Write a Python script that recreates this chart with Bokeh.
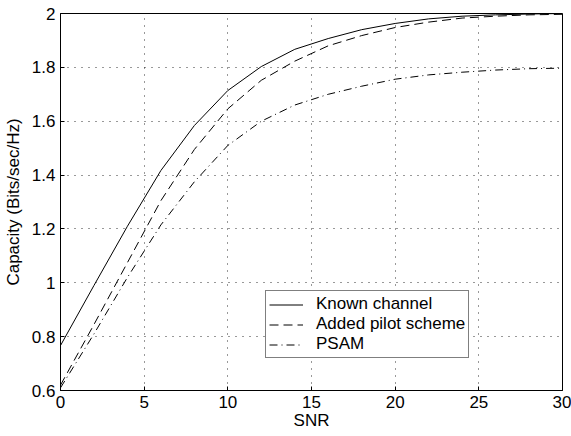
from bokeh.plotting import figure
from bokeh.models import FixedTicker, Legend, LegendItem
from bokeh.embed import file_html
from bokeh.resources import INLINE

snr = [0, 2, 4, 6, 8, 10, 12, 14, 16, 18, 20, 22, 24, 26, 28, 30]
known = [0.767, 0.99, 1.21, 1.417, 1.584, 1.714, 1.803, 1.867, 1.907, 1.94, 1.963, 1.98, 1.99, 1.995, 1.998, 2.0]
pilot = [0.62, 0.845, 1.075, 1.305, 1.495, 1.646, 1.752, 1.823, 1.88, 1.918, 1.948, 1.968, 1.983, 1.99, 1.995, 1.997]
psam = [0.61, 0.81, 1.02, 1.215, 1.375, 1.51, 1.60, 1.66, 1.70, 1.73, 1.756, 1.772, 1.782, 1.79, 1.795, 1.797]

x_ticks = [0, 5, 10, 15, 20, 25, 30]
y_ticks = [0.6, 0.8, 1.0, 1.2, 1.4, 1.6, 1.8, 2.0]
y_tick_labels = ["0.6", "0.8", "1", "1.2", "1.4", "1.6", "1.8", "2"]

FONT = "Liberation Sans"

p = figure(width=571, height=436, output_backend="svg", toolbar_location=None,
           x_range=(0, 30), y_range=(0.6, 2.0),
           min_border_left=59, min_border_right=9, min_border_top=13, min_border_bottom=46)
p.background_fill_color = "white"
p.border_fill_color = "white"
p.outline_line_color = "black"
p.outline_line_width = 1

p.xaxis.ticker = FixedTicker(ticks=x_ticks)
p.yaxis.ticker = FixedTicker(ticks=y_ticks)
p.yaxis.major_label_overrides = {t: l for t, l in zip(y_ticks, y_tick_labels)}
p.xaxis.axis_label = "SNR"
p.yaxis.axis_label = "Capacity (Bits/sec/Hz)"

for ax in (p.xaxis, p.yaxis):
    ax.major_label_text_font = FONT
    ax.major_label_text_font_size = "17px"
    ax.major_label_text_color = "black"
    ax.axis_label_text_font = FONT
    ax.axis_label_text_font_size = "17px"
    ax.axis_label_text_font_style = "normal"
    ax.axis_label_text_color = "black"
    ax.axis_line_color = "black"
    ax.major_tick_line_color = "black"
    ax.major_tick_in = 4
    ax.major_tick_out = 0
    ax.minor_tick_line_color = None

p.xaxis.major_label_standoff = 5
p.xaxis.axis_label_standoff = 0
p.yaxis.major_label_standoff = 5
p.yaxis.axis_label_standoff = 6

for g in (p.xgrid, p.ygrid):
    g.grid_line_color = "black"
    g.grid_line_alpha = 0.8
    g.grid_line_dash = "1 6"
    g.grid_line_width = 1

r1 = p.line(snr, known, line_color="black", line_width=1)
r2 = p.line(snr, pilot, line_color="black", line_width=1, line_dash="9 5")
r3 = p.line(snr, psam, line_color="black", line_width=1, line_dash="8 4 1 4")

legend = Legend(items=[LegendItem(label="Known channel", renderers=[r1]),
                       LegendItem(label="Added pilot scheme", renderers=[r2]),
                       LegendItem(label="PSAM", renderers=[r3])],
                location=(205, 32))
legend.label_text_font = FONT
legend.label_text_font_size = "17px"
legend.label_text_color = "black"
legend.border_line_color = "black"
legend.border_line_width = 1
legend.background_fill_color = "white"
legend.background_fill_alpha = 1
legend.padding = 3
legend.spacing = 0
legend.label_height = 19
legend.glyph_height = 19
legend.glyph_width = 34
legend.label_standoff = 13
legend.margin = 0
p.add_layout(legend, "center")

open("out.html", "w").write(file_html(p, INLINE))
